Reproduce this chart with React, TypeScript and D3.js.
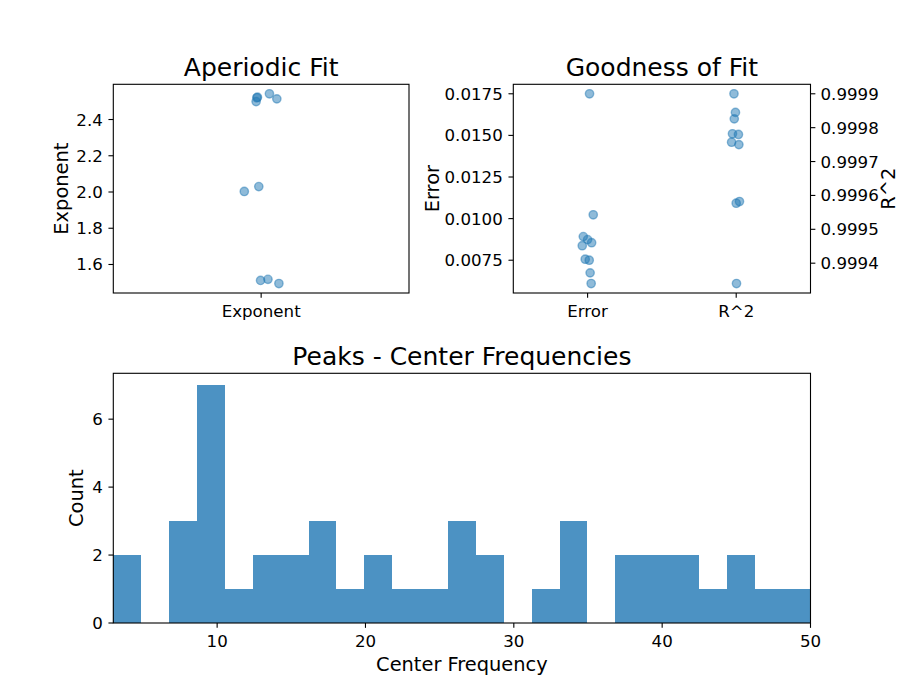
import React from "react";
import * as d3 from "d3";

const exponentValues = [2.52, 2.523, 2.499, 2.542, 2.514, 2.003, 2.03, 1.512, 1.518, 1.495];
const exponentJitter = [-0.0145, -0.0125, -0.017, 0.028, 0.053, -0.057, -0.008, -0.002, 0.023, 0.06];
const exponentTicks = [1.6, 1.8, 2.0, 2.2, 2.4];

const errorValues = [0.0175, 0.01023, 0.00892, 0.00874, 0.00837, 0.00855, 0.00756, 0.0075, 0.00674, 0.0061];
const errorJitter = [0.013, 0.038, -0.029, 0.0, -0.036, 0.027, -0.016, 0.011, 0.017, 0.024];
const errorTicks = [0.0075, 0.01, 0.0125, 0.015, 0.0175];

const r2Values = [0.9999, 0.999845, 0.999826, 0.999782, 0.99978, 0.999757, 0.99975, 0.999577, 0.999582, 0.99934];
const r2Jitter = [-0.015, -0.005, -0.013, -0.025, 0.015, -0.031, 0.018, 0.0, 0.022, 0.002];
const r2Ticks = [0.9994, 0.9995, 0.9996, 0.9997, 0.9998, 0.9999];

const histStart = 3;
const histEnd = 50;
const histCounts = [2, 0, 3, 7, 1, 2, 2, 3, 1, 2, 1, 1, 3, 2, 0, 1, 3, 0, 2, 2, 2, 1, 2, 1, 1];
const histXTicks = [10, 20, 30, 40, 50];
const histYTicks = [0, 2, 4, 6];

const BLUE = "#1f77b4";
const FONT = "DejaVu Sans, sans-serif";
const TICK = 4.86;
const TICKFS = 16.67;
const LABELFS = 19.4;
const TITLEFS = 25;

function margined(vals: number[]): [number, number] {
  const [lo, hi] = d3.extent(vals) as [number, number];
  const m = (hi - lo) * 0.05;
  return [lo - m, hi + m];
}

function Frame({ x0, x1, y0, y1 }: { x0: number; x1: number; y0: number; y1: number }) {
  return <rect x={x0} y={y0} width={x1 - x0} height={y1 - y0} fill="none" stroke="#000" strokeWidth={1.1} />;
}

function YTicksLeft({ scale, ticks, x, fmt }: { scale: any; ticks: number[]; x: number; fmt: (v: number) => string }) {
  return (
    <g>
      {ticks.map((t) => (
        <g key={t}>
          <line x1={x - TICK} x2={x} y1={scale(t)} y2={scale(t)} stroke="#000" strokeWidth={1.1} />
          <text x={x - 10.5} y={scale(t)} dy="0.36em" textAnchor="end" fontSize={TICKFS} fontFamily={FONT}>
            {fmt(t)}
          </text>
        </g>
      ))}
    </g>
  );
}

function YTicksRight({ scale, ticks, x, fmt }: { scale: any; ticks: number[]; x: number; fmt: (v: number) => string }) {
  return (
    <g>
      {ticks.map((t) => (
        <g key={t}>
          <line x1={x} x2={x + TICK} y1={scale(t)} y2={scale(t)} stroke="#000" strokeWidth={1.1} />
          <text x={x + 10} y={scale(t)} dy="0.36em" textAnchor="start" fontSize={TICKFS} fontFamily={FONT}>
            {fmt(t)}
          </text>
        </g>
      ))}
    </g>
  );
}

function XTicks({ positions, labels, y }: { positions: number[]; labels: string[]; y: number }) {
  return (
    <g>
      {positions.map((p, i) => (
        <g key={i}>
          <line x1={p} x2={p} y1={y} y2={y + TICK} stroke="#000" strokeWidth={1.1} />
          <text x={p} y={y + 24} textAnchor="middle" fontSize={TICKFS} fontFamily={FONT}>
            {labels[i]}
          </text>
        </g>
      ))}
    </g>
  );
}

function Dots({ xs, ys }: { xs: number[]; ys: number[] }) {
  return (
    <g>
      {xs.map((x, i) => (
        <circle
          key={i}
          cx={x}
          cy={ys[i]}
          r={4.17}
          fill={BLUE}
          fillOpacity={0.5}
          stroke={BLUE}
          strokeOpacity={0.5}
          strokeWidth={1.39}
        />
      ))}
    </g>
  );
}

export default function App() {
  // Panel 1: Aperiodic fit
  const p1 = { x0: 113.3, x1: 409, y0: 84.3, y1: 293 };
  const x1s = d3.scaleLinear().domain([-0.5, 0.5]).range([p1.x0, p1.x1]);
  const y1s = d3.scaleLinear().domain(margined(exponentValues)).range([p1.y1, p1.y0]);

  // Panel 2: Goodness of fit
  const p2 = { x0: 513.3, x1: 810.5, y0: 84.3, y1: 293 };
  const x2s = d3.scaleLinear().domain([-0.5, 1.5]).range([p2.x0, p2.x1]);
  const y2e = d3.scaleLinear().domain(margined(errorValues)).range([p2.y1, p2.y0]);
  const y2r = d3.scaleLinear().domain(margined(r2Values)).range([p2.y1, p2.y0]);

  // Panel 3: histogram
  const p3 = { x0: 113.3, x1: 810.5, y0: 373.3, y1: 623 };
  const x3s = d3.scaleLinear().domain([histStart, histEnd]).range([p3.x0, p3.x1]);
  const maxC = d3.max(histCounts) as number;
  const y3s = d3.scaleLinear().domain([0, maxC * 1.05]).range([p3.y1, p3.y0]);
  const binW = (histEnd - histStart) / histCounts.length;

  return (
    <svg width={900} height={700} style={{ display: "block", position: "absolute", left: 0, top: 0 }} fontFamily={FONT}>
      <rect x={0} y={0} width={900} height={700} fill="#fff" />

      {/* Panel 1 */}
      <text x={(p1.x0 + p1.x1) / 2} y={76} textAnchor="middle" fontSize={TITLEFS}>
        Aperiodic Fit
      </text>
      <Dots xs={exponentJitter.map((j) => x1s(0 + j))} ys={exponentValues.map((v) => y1s(v))} />
      <Frame {...p1} />
      <YTicksLeft scale={y1s} ticks={exponentTicks} x={p1.x0} fmt={d3.format(".1f")} />
      <XTicks positions={[x1s(0)]} labels={["Exponent"]} y={p1.y1} />
      <text
        transform={`translate(68,${(p1.y0 + p1.y1) / 2}) rotate(-90)`}
        textAnchor="middle"
        fontSize={LABELFS}
      >
        Exponent
      </text>

      {/* Panel 2 */}
      <text x={(p2.x0 + p2.x1) / 2} y={76} textAnchor="middle" fontSize={TITLEFS}>
        Goodness of Fit
      </text>
      <Dots xs={errorJitter.map((j) => x2s(0 + j))} ys={errorValues.map((v) => y2e(v))} />
      <Dots xs={r2Jitter.map((j) => x2s(1 + j))} ys={r2Values.map((v) => y2r(v))} />
      <Frame {...p2} />
      <YTicksLeft scale={y2e} ticks={errorTicks} x={p2.x0} fmt={d3.format(".4f")} />
      <YTicksRight scale={y2r} ticks={r2Ticks} x={p2.x1} fmt={d3.format(".4f")} />
      <XTicks positions={[x2s(0), x2s(1)]} labels={["Error", "R^2"]} y={p2.y1} />
      <text
        transform={`translate(439,${(p2.y0 + p2.y1) / 2}) rotate(-90)`}
        textAnchor="middle"
        fontSize={LABELFS}
      >
        Error
      </text>
      <text
        transform={`translate(895,${(p2.y0 + p2.y1) / 2}) rotate(-90)`}
        textAnchor="middle"
        fontSize={LABELFS}
      >
        R^2
      </text>

      {/* Panel 3 */}
      <text x={(p3.x0 + p3.x1) / 2} y={365} textAnchor="middle" fontSize={TITLEFS}>
        Peaks - Center Frequencies
      </text>
      <g>
        {histCounts.map((c, i) => {
          const a = histStart + i * binW;
          const b = a + binW;
          return c > 0 ? (
            <rect
              key={i}
              x={x3s(a)}
              y={y3s(c)}
              width={x3s(b) - x3s(a)}
              height={y3s(0) - y3s(c)}
              fill={BLUE}
              fillOpacity={0.8}
              shapeRendering="crispEdges"
            />
          ) : null;
        })}
      </g>
      <Frame {...p3} />
      <YTicksLeft scale={y3s} ticks={histYTicks} x={p3.x0} fmt={d3.format("d")} />
      <XTicks positions={histXTicks.map((t) => x3s(t))} labels={histXTicks.map(String)} y={p3.y1} />
      <text
        transform={`translate(83,${(p3.y0 + p3.y1) / 2}) rotate(-90)`}
        textAnchor="middle"
        fontSize={LABELFS}
      >
        Count
      </text>
      <text x={(p3.x0 + p3.x1) / 2} y={671} textAnchor="middle" fontSize={LABELFS}>
        Center Frequency
      </text>
    </svg>
  );
}
